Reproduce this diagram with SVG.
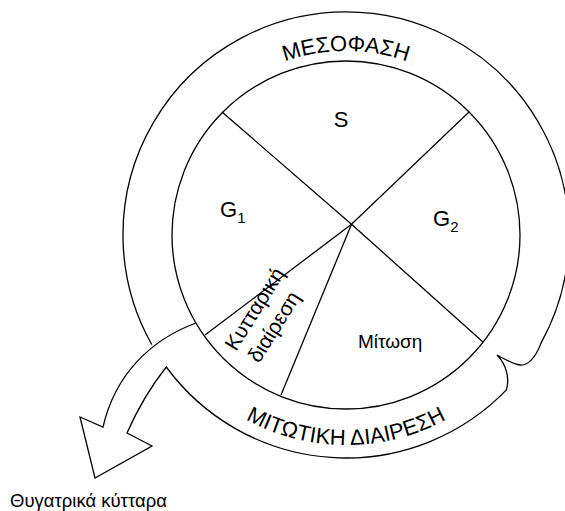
<svg xmlns="http://www.w3.org/2000/svg" width="565" height="511" viewBox="0 0 565 511">
<style>
 .ln{fill:none;stroke:#000;stroke-width:1.3;stroke-linejoin:miter}
 text{font-family:"Liberation Sans",Arial,Helvetica,sans-serif;fill:#000}
 .big{font-size:22px}
 .mid{font-size:19px}
 .sub{font-size:15px}
</style>
<defs>
 <path id="topArc" d="M 162,235 A 184 184 0 0 1 530,235"/>
 <path id="botArc" d="M 136,235 A 210 210 0 0 0 556,235"/>
</defs>
<rect width="565" height="511" fill="#fff"/>
<g id="cycle-band">
 <path class="ln" d="M 196,323 C 150,340 115,375 103,427 L 80,417 L 95,478 L 152,446 L 127,433 C 138,408 152,385 166.3,367 A 223 223 0 0 0 506.4,389.9 C 510,378 506,364 497,355 C 503,358 512,364 520,365 C 528,366 536,357 541,343.1 A 223 223 0 1 0 151.9,344.8"/>
 <text class="big"><textPath href="#topArc" startOffset="50%" text-anchor="middle">ΜΕΣΟΦΑΣΗ</textPath></text>
 <text class="big"><textPath href="#botArc" startOffset="50%" text-anchor="middle">ΜΙΤΩΤΙΚΗ ΔΙΑΙΡΕΣΗ</textPath></text>
</g>
<g id="cell-cycle">
 <circle class="ln" cx="346" cy="235" r="174"/>
</g>
<g id="connectors">
 <path class="ln" d="M 222,112 L 351.5,224.3 L 482.7,341.7"/>
 <path class="ln" d="M 205,335 L 351.5,224.3 L 469,112"/>
 <path class="ln" d="M 351.5,224.3 L 281,395"/>
</g>
<g id="phase-S"><text class="big" x="341" y="127" text-anchor="middle">S</text></g>
<g id="phase-G1"><text class="big" x="220" y="217">G<tspan class="sub" dy="6">1</tspan></text></g>
<g id="phase-G2"><text class="big" x="433" y="226">G<tspan class="sub" dy="6">2</tspan></text></g>
<g id="phase-mitosis"><text class="mid" x="358" y="348">Μίτωση</text></g>
<g id="phase-cytokinesis">
 <text style="font-size:21px" transform="translate(236,352) rotate(-58)"><tspan x="0" y="0">Κυτταρική</tspan><tspan x="2" y="26">διαίρεση</tspan></text>
</g>
<g id="daughter-cells"><text style="font-size:18.5px" x="10" y="507">Θυγατρικά κύτταρα</text></g>
</svg>
